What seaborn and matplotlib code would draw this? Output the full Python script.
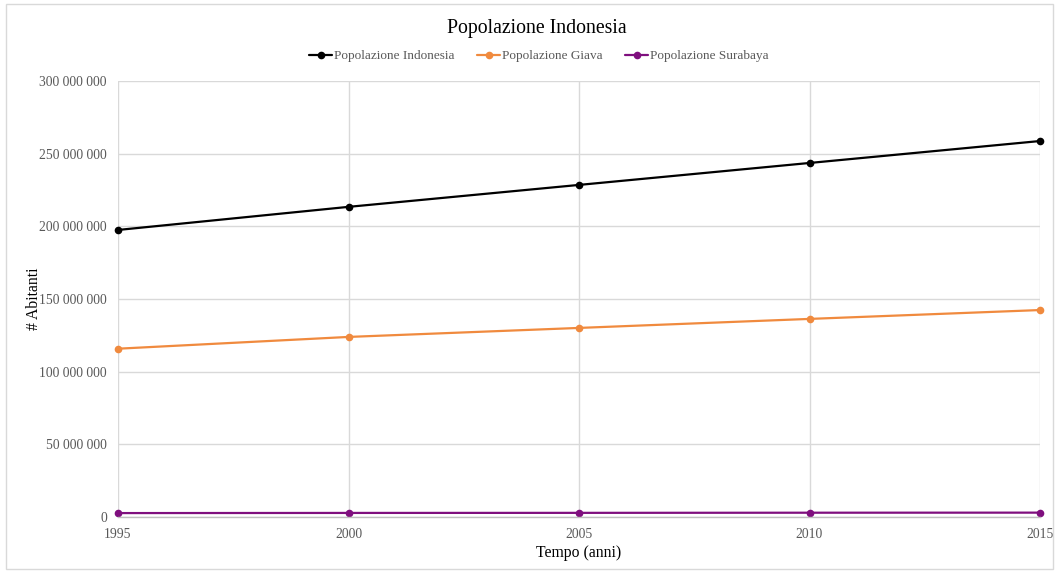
import matplotlib
matplotlib.use("Agg")
import matplotlib.pyplot as plt
import seaborn as sns
import pandas as pd
from matplotlib.ticker import FuncFormatter, MultipleLocator
from matplotlib.patches import Rectangle

anni = [1995, 2000, 2005, 2010, 2015]
pop_indonesia = [197500000, 213400000, 228500000, 243600000, 258700000]
pop_giava = [115800000, 123900000, 130100000, 136300000, 142400000]
pop_surabaya = [2700000, 2800000, 2850000, 2950000, 3000000]
serie = ["Popolazione Indonesia", "Popolazione Giava", "Popolazione Surabaya"]
colori = ["#000000", "#F08A3E", "#7F0F7E"]

df = pd.DataFrame({
    "anno": anni * 3,
    "valore": pop_indonesia + pop_giava + pop_surabaya,
    "serie": [serie[0]] * 5 + [serie[1]] * 5 + [serie[2]] * 5,
})

sns.set_theme(style="white")
plt.rcParams["font.family"] = ["Liberation Serif", "DejaVu Serif"]

fig = plt.figure(figsize=(10.59, 5.71), dpi=100)
ax = fig.add_axes([118 / 1059, 1 - 517 / 571, (1040 - 118) / 1059, (517 - 81) / 571])

sns.lineplot(data=df, x="anno", y="valore", hue="serie", hue_order=serie,
             palette=colori, marker="o", markersize=5.5, markeredgewidth=0,
             linewidth=1.6, ax=ax, legend=True)
for ln in ax.lines:
    ln.set_clip_on(False)

ax.set_xlim(1995, 2015)
ax.set_ylim(0, 300000000)
ax.xaxis.set_major_locator(MultipleLocator(5))
ax.yaxis.set_major_locator(MultipleLocator(50000000))
ax.yaxis.set_major_formatter(FuncFormatter(lambda v, p: f"{int(v):,}".replace(",", " ")))
ax.grid(True, color="#D9D9D9", linewidth=1)
ax.set_axisbelow(True)
for s in ["top", "right", "left"]:
    ax.spines[s].set_visible(False)
ax.spines["bottom"].set_color("#BFBFBF")
ax.spines["bottom"].set_linewidth(1)
ax.tick_params(axis="both", colors="#595959", labelsize=9.8, length=0, pad=8)
ax.tick_params(axis="x", pad=8)
for lbl in ax.get_xticklabels() + ax.get_yticklabels():
    lbl.set_color("#595959")

ax.set_xlabel("Tempo (anni)", fontsize=11.3, color="#000000", labelpad=3)
ax.set_ylabel("# Abitanti", fontsize=11.3, color="#000000", labelpad=-2)

fig.text(537 / 1059, 1 - 28 / 571, "Popolazione Indonesia", ha="center", va="center",
         fontsize=14.2, color="#000000")

handles, labels = ax.get_legend_handles_labels()
leg = fig.legend(handles, labels, loc="center", bbox_to_anchor=(539 / 1059, 1 - 56 / 571),
                 ncol=3, frameon=False, fontsize=9.5, handlelength=1.75,
                 handletextpad=0.15, columnspacing=1.7)
ax.get_legend().remove() if ax.get_legend() else None
for t in leg.get_texts():
    t.set_color("#595959")

fig.patches.append(Rectangle((6 / 1059, 2 / 571), 1 - 12 / 1059, 1 - 6 / 571,
                             transform=fig.transFigure, fill=False,
                             edgecolor="#D9D9D9", linewidth=1))

fig.savefig("out.png", dpi=100)
